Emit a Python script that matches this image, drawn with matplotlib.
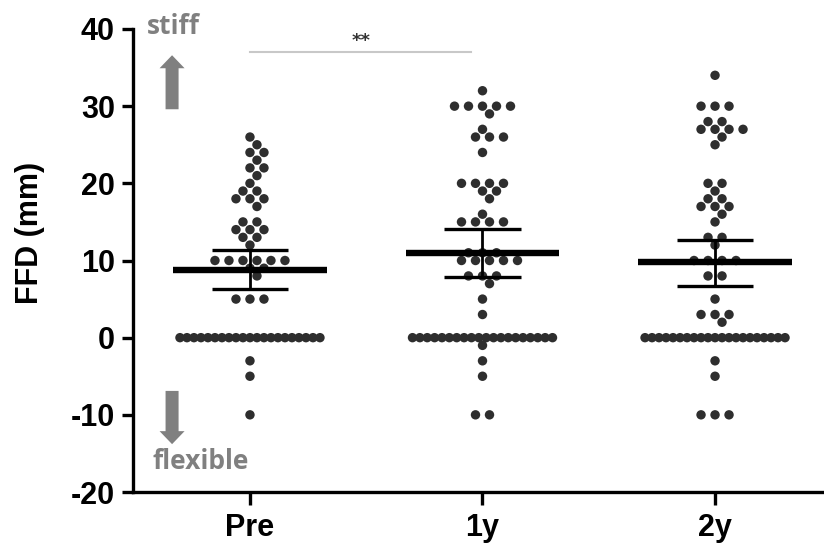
import numpy as np
import matplotlib
matplotlib.use("Agg")
import matplotlib.pyplot as plt
from matplotlib.patches import FancyArrow

# ---------------- data ----------------
categories = ["Pre", "1y", "2y"]

# (value, count) pairs for each group
pre_vals   = [26, 25, 24, 23, 22, 21, 20, 19, 18, 17, 15, 14, 13, 12, 10, 9, 8, 5, 0, -3, -5, -10]
pre_counts = [1, 1, 2, 1, 2, 1, 1, 2, 3, 1, 2, 3, 2, 1, 6, 2, 1, 3, 21, 1, 1, 1]

y1_vals   = [32, 30, 29, 27, 26, 24, 20, 19, 18, 16, 15, 11, 10, 8, 7, 5, 3, 0, -1, -3, -5, -10]
y1_counts = [1, 5, 1, 1, 3, 1, 4, 2, 1, 1, 4, 3, 5, 3, 1, 1, 1, 20, 1, 1, 1, 2]

y2_vals   = [34, 30, 28, 27, 26, 25, 20, 19, 18, 17, 16, 15, 13, 12, 10, 8, 5, 3, 2, 0, -3, -5, -10]
y2_counts = [1, 3, 2, 4, 1, 1, 2, 1, 2, 3, 1, 1, 2, 1, 4, 2, 1, 3, 1, 21, 1, 1, 3]

means   = [8.8, 11.0, 9.8]
ci_low  = [6.3, 7.9, 6.7]
ci_high = [11.3, 14.1, 12.7]

yticks = [-20, -10, 0, 10, 20, 30, 40]
sig_text = "**"

# ---------------- figure ----------------
W, H = 824, 548
fig = plt.figure(figsize=(W / 100, H / 100), dpi=100)
ax_left_px, ax_right_px = 133, 822
ax_bot_px, ax_top_px = 56, 519
ax = fig.add_axes([ax_left_px / W, ax_bot_px / H,
                   (ax_right_px - ax_left_px) / W, (ax_top_px - ax_bot_px) / H])

xmin, xmax = -0.503, 2.46
ymin, ymax = -20, 40
ax.set_xlim(xmin, xmax)
ax.set_ylim(ymin, ymax)
px_per_unit = (ax_right_px - ax_left_px) / (xmax - xmin)
px_per_y = (ax_top_px - ax_bot_px) / (ymax - ymin)

dot_color = "#2e2e2e"


def swarm(vals, counts, step_px=14.0, max_half_px=70.0, dmin=9.0):
    """Row-wise beeswarm layout in pixel space, converted to data units."""
    placed = []  # (x_px, y_px)
    xs, ys = [], []
    order = np.argsort(vals)[::-1]
    shifts = [0, 7, -7, 14, -14, 21, -21, 28, -28]
    for k in order:
        v, n = vals[k], counts[k]
        yp = v * px_per_y
        if n > 1:
            step = min(step_px, 2 * max_half_px / (n - 1))
        else:
            step = 0
        base = (np.arange(n) - (n - 1) / 2.0) * step
        chosen = base
        if n <= 10:
            for s in shifts:
                cand = base + s
                ok = True
                for (px, py) in placed:
                    if abs(py - yp) < 1e-9:
                        continue
                    if np.any(np.hypot(cand - px, py - yp) < dmin):
                        ok = False
                        break
                if ok:
                    chosen = cand
                    break
        for c in chosen:
            placed.append((c, yp))
            xs.append(c / px_per_unit)
            ys.append(v)
    return np.array(xs), np.array(ys)


groups = [(pre_vals, pre_counts), (y1_vals, y1_counts), (y2_vals, y2_counts)]
for i, (v, c) in enumerate(groups):
    dx, yy = swarm(v, c)
    ax.scatter(i + dx, yy, s=46, color=dot_color, edgecolors="none", zorder=2)

# mean and CI bars
for i in range(3):
    ax.plot([i - 0.33, i + 0.33], [means[i], means[i]], color="black", lw=4.6,
            solid_capstyle="butt", zorder=4)
    ax.plot([i, i], [ci_low[i], ci_high[i]], color="black", lw=2.0, zorder=4)
    for yv in (ci_low[i], ci_high[i]):
        ax.plot([i - 0.165, i + 0.165], [yv, yv], color="black", lw=2.4,
                solid_capstyle="butt", zorder=4)

# significance
ax.plot([0, 0.95], [37.0, 37.0], color="#c8c8c8", lw=1.5, zorder=1, clip_on=False)
ax.text(0.48, 37.3, sig_text, ha="center", va="bottom", fontsize=13,
        fontweight="bold", color="#333333")

# stiff / flexible annotations
gray = "#808080"
ax.text(-0.33, 40.3, "stiff", ha="center", va="center", fontsize=19,
        fontweight="bold", color=gray, family="Open Sans")
ax.text(-0.21, -16.1, "flexible", ha="center", va="center", fontsize=19,
        fontweight="bold", color=gray, family="Open Sans")

ax_x = -0.335
shaft_w = 13 / px_per_unit
head_w = 25 / px_per_unit
ax.add_patch(FancyArrow(ax_x, 29.6, 0, 36.6 - 29.6, width=shaft_w, head_width=head_w,
                        head_length=13 / px_per_y, length_includes_head=True,
                        color=gray, lw=0))
ax.add_patch(FancyArrow(ax_x, -6.9, 0, -13.8 + 6.9, width=shaft_w, head_width=head_w,
                        head_length=13 / px_per_y, length_includes_head=True,
                        color=gray, lw=0))

# axes styling
for s in ("top", "right"):
    ax.spines[s].set_visible(False)
for s in ("left", "bottom"):
    ax.spines[s].set_linewidth(2.4)
ax.set_xticks(range(3))
ax.set_xticklabels(categories)
ax.set_yticks(yticks)
ax.set_yticklabels([str(t) for t in yticks])
ax.tick_params(axis="both", width=2.4, length=8, pad=5, labelsize=22)
ax.tick_params(axis="x", length=9, pad=6)
for lab in ax.get_xticklabels() + ax.get_yticklabels():
    lab.set_fontweight("bold")
    lab.set_family("Liberation Sans")
ax.set_ylabel("FFD (mm)", fontsize=22, fontweight="bold", family="Liberation Sans")
ax.yaxis.set_label_coords(-0.149, 0.56)
ax.yaxis.label.set_va("center")

fig.savefig("out.png", dpi=100)
